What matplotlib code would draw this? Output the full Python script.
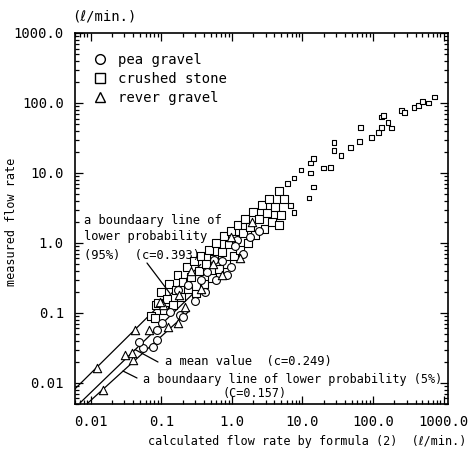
import numpy as np
import matplotlib
matplotlib.use("Agg")
import matplotlib.pyplot as plt
from matplotlib.lines import Line2D
from matplotlib.ticker import FixedLocator, FixedFormatter, LogLocator, NullFormatter

plt.rcParams['font.family'] = ['DejaVu Sans Mono', 'DejaVu Sans']

# ---- data (l/min) ----
pea_x = [0.055, 0.088, 0.103, 0.134, 0.186, 0.088, 0.077, 0.205, 0.17, 0.45, 0.55,
         0.24, 0.3, 0.36, 0.6, 0.72, 0.96, 1.2, 1.45, 1.8, 0.42, 1.1, 2.4, 0.84, 0.048]
pea_y = [0.0315, 0.041, 0.072, 0.103, 0.093, 0.057, 0.0326, 0.0875, 0.213, 0.385, 0.57,
         0.25, 0.15, 0.3, 0.3, 0.55, 0.45, 1.1, 0.7, 1.2, 0.2, 0.9, 1.5, 0.35, 0.038]

crushed_x = [0.072, 0.084, 0.1, 0.11, 0.12, 0.13, 0.145, 0.16, 0.17, 0.19, 0.2, 0.23,
             0.24, 0.26, 0.29, 0.31, 0.34, 0.36, 0.4, 0.43, 0.48, 0.52, 0.56, 0.6,
             0.66, 0.72, 0.78, 0.84, 0.9, 0.96, 1.08, 1.14, 1.2, 1.3, 1.45, 1.55,
             1.7, 1.8, 2.0, 2.15, 2.4, 2.65, 2.9, 3.1, 3.4, 3.7, 4.1, 4.6, 5.0, 5.5,
             6.2, 6.7, 0.081, 0.09,
             7.6, 9.5, 13, 12.4, 14.4, 14.4, 20, 25, 28, 28, 35, 48, 64, 67, 94, 118,
             130, 130, 163, 180, 250, 276, 380, 436, 605, 735, 7.6, 4.6, 13, 142, 500]
crushed_y = [0.09, 0.13, 0.2, 0.11, 0.16, 0.26, 0.13, 0.21, 0.35, 0.17, 0.28, 0.45,
             0.22, 0.33, 0.55, 0.19, 0.4, 0.65, 0.26, 0.5, 0.8, 0.32, 0.6, 1.0,
             0.42, 0.75, 1.25, 0.5, 0.95, 1.5, 0.65, 1.15, 1.8, 0.8, 1.4, 2.2,
             1.0, 1.7, 2.8, 1.3, 2.2, 3.5, 1.6, 2.7, 4.3, 2.0, 3.3, 5.5, 2.5, 4.2,
             7.0, 3.4, 0.085, 0.14,
             8.5, 11, 10, 4.4, 6.3, 16, 11.8, 12, 27, 21, 18, 23, 28, 45, 32, 38,
             45, 63, 53, 44, 79, 74, 87, 92, 100, 122, 2.7, 1.8, 13.9, 67, 105]

river_x = [0.0124, 0.015, 0.031, 0.04, 0.038, 0.043, 0.066, 0.17, 0.107, 0.126, 0.097,
           0.18, 0.26, 0.36, 0.54, 0.72, 0.96, 1.3, 1.9, 0.22]
river_y = [0.0163, 0.0079, 0.025, 0.0213, 0.027, 0.057, 0.057, 0.072, 0.13, 0.063, 0.143,
           0.18, 0.4, 0.22, 0.5, 0.35, 1.2, 0.6, 2.0, 0.12]

# boundary / mean lines (end points)
upper_x, upper_y = [0.0054, 0.36], [0.0074, 0.49]   # 95 %
mean_x, mean_y = [0.0071, 0.3], [0.0052, 0.2]       # mean
lower_x, lower_y = [0.0092, 0.25], [0.0052, 0.107]  # 5 %

tick_vals = [0.01, 0.1, 1, 10, 100, 1000]
tick_labels = ['0.01', '0.1', '1.0', '10.0', '100.0', '1000.0']

fig = plt.figure(figsize=(4.69, 4.5), dpi=100)
ax = fig.add_axes([75/469, 1-404/450, 373/469, 371/450])
ax.set_xscale('log')
ax.set_yscale('log')
ax.set_xlim(0.006, 1150)
ax.set_ylim(0.005, 1000)

for lx, ly in [(upper_x, upper_y), (mean_x, mean_y), (lower_x, lower_y)]:
    ax.plot(lx, ly, color='black', lw=0.9, zorder=1)

cx = np.array(crushed_x)
sizes = np.where(cx > 6, 12, 32)
ax.scatter(crushed_x, crushed_y, marker='s', s=sizes, facecolors='white',
           edgecolors='black', linewidths=0.8, zorder=2)
ax.scatter(pea_x, pea_y, marker='o', s=32, facecolors='white',
           edgecolors='black', linewidths=0.8, zorder=3)
ax.scatter(river_x, river_y, marker='^', s=36, facecolors='white',
           edgecolors='black', linewidths=0.8, zorder=3)

for axis in (ax.xaxis, ax.yaxis):
    axis.set_major_locator(FixedLocator(tick_vals))
    axis.set_major_formatter(FixedFormatter(tick_labels))
    axis.set_minor_locator(LogLocator(base=10, subs=np.arange(2, 10)))
    axis.set_minor_formatter(NullFormatter())
ax.tick_params(which='both', direction='in', top=True, right=True, width=0.9)
ax.tick_params(which='major', length=6, labelsize=10)
ax.tick_params(which='minor', length=3)
ax.tick_params(axis='y', pad=8)
ax.tick_params(axis='x', pad=8)
for s in ax.spines.values():
    s.set_linewidth(1.2)

ax.set_xlabel('calculated flow rate by formula (2)  (ℓ/min.)', fontsize=8.5)
ax.xaxis.set_label_coords(1.05, -0.102)
ax.xaxis.label.set_va('center')
ax.xaxis.label.set_ha('right')
ax.set_ylabel('measured flow rate', fontsize=8.5)
ax.yaxis.set_label_coords(-0.169, 0.49)
ax.yaxis.label.set_va('center')
fig.text(72/469, 1-17/450, '(ℓ/min.)', fontsize=10, va='center', ha='left')

handles = [Line2D([], [], marker='o', ls='', mfc='white', mec='black', ms=7),
           Line2D([], [], marker='s', ls='', mfc='white', mec='black', ms=7),
           Line2D([], [], marker='^', ls='', mfc='white', mec='black', ms=7)]
ax.legend(handles, ['pea gravel', 'crushed stone', 'rever gravel'], loc='upper left',
          bbox_to_anchor=(0.03, 0.965), frameon=False, fontsize=10,
          handlelength=1.0, handletextpad=0.8, labelspacing=0.35, borderpad=0)

# annotations
for txt, ypx in [('a boundaary line of', 220), ('lower probability', 237),
                 ('(95%)  (c=0.393)', 255)]:
    fig.text(84/469, 1-ypx/450, txt, fontsize=8.7, va='center', ha='left')
fig.text(165/469, 1-362/450, 'a mean value  (c=0.249)', fontsize=8.7, va='center')
fig.text(143/469, 1-380/450, 'a boundaary line of lower probability (5%)', fontsize=8.5, va='center')
fig.text(222/469, 1-393/450, '(C=0.157)', fontsize=8.5, va='center')

arrow = dict(arrowstyle='-', lw=0.9, color='black', shrinkA=0, shrinkB=0)
ax.annotate('', xy=(0.133, 0.19), xytext=(147, 450-263), textcoords='figure pixels', arrowprops=arrow)
ax.annotate('', xy=(0.0425, 0.030), xytext=(158, 450-362), textcoords='figure pixels', arrowprops=arrow)
ax.annotate('', xy=(0.0287, 0.0148), xytext=(137, 450-378), textcoords='figure pixels', arrowprops=arrow)

fig.savefig('out.png', dpi=100)
